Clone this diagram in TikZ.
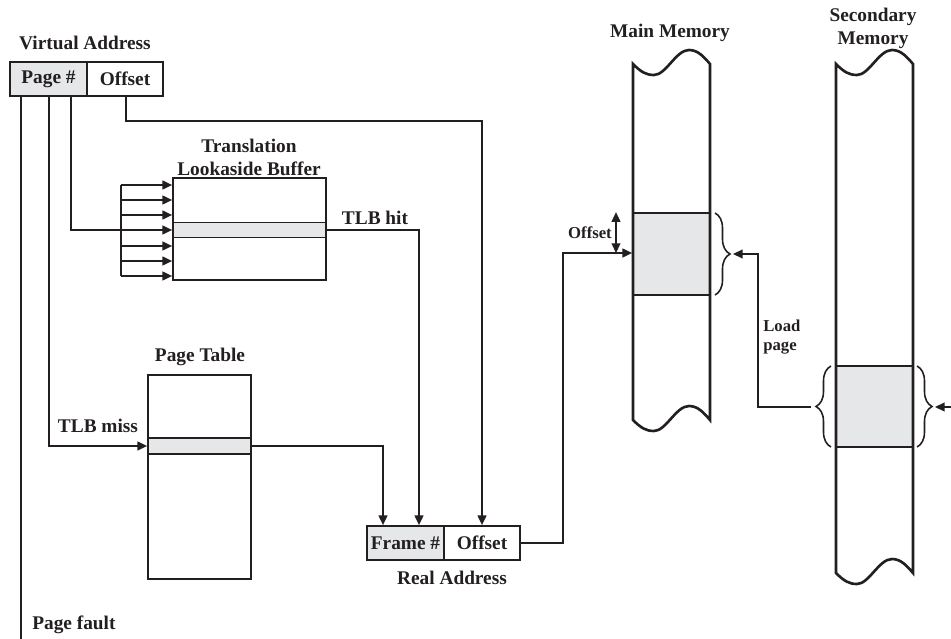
\documentclass[tikz,border=0pt]{standalone}
\usepackage{fontspec}
\setmainfont{Liberation Serif}
\usetikzlibrary{arrows.meta,decorations.pathreplacing}
\definecolor{ink}{HTML}{231F20}
\definecolor{shade}{HTML}{E6E7E8}
\begin{document}
\begin{tikzpicture}[x=0.02cm,y=-0.02cm,
  lbl/.style={font=\fontsize{11}{13}\selectfont\bfseries, text=ink, inner sep=0pt, align=center},
  slbl/.style={font=\fontsize{9.5}{11.3}\selectfont\bfseries, text=ink, inner sep=0pt},
  box/.style={draw=ink, line width=1pt, inner sep=0pt, font=\fontsize{11}{13}\selectfont\bfseries, text=ink},
  conn/.style={draw=ink, line width=0.9pt},
  arr/.style={conn, -{Triangle[length=5.5pt,width=5pt]}},
  darr/.style={conn, {Triangle[length=5.5pt,width=5pt]}-{Triangle[length=5.5pt,width=5pt]}},
  col/.style={draw=ink, line width=1.5pt},
  brc/.style={draw=ink, line width=0.9pt, decorate, decoration={brace, amplitude=0.3cm}},
]
\useasboundingbox (0,0) rectangle (951,639);

% Virtual address
\node[lbl] (valbl) at (85,43) {Virtual Address};
\node[box, fill=shade, minimum width=1.54cm, minimum height=0.68cm] (pg) at (48.5,79) {Page \#};
\node[box, minimum width=1.52cm, minimum height=0.68cm] (voff) at (125,79) {Offset};

% TLB
\node[lbl] (tlblbl) at (249,157) {Translation\\Lookaside Buffer};
\node[box, minimum width=3.06cm, minimum height=2.04cm] (tlb) at (249.5,229) {};
\node[box, fill=shade, minimum width=3.06cm, minimum height=0.3cm] (tlbrow) at (249.5,230) {};

% Page table
\node[lbl] (ptlbl) at (200,357) {Page Table};
\node[box, minimum width=2.06cm, minimum height=4.08cm] (pt) at (199.5,477) {};
\node[box, fill=shade, minimum width=2.06cm, minimum height=0.32cm] (ptrow) at (199.5,446) {};

% Real address
\node[box, fill=shade, minimum width=1.54cm, minimum height=0.68cm] (frame) at (405.5,543) {Frame \#};
\node[box, minimum width=1.52cm, minimum height=0.68cm] (roff) at (482,543) {Offset};
\node[lbl] (ralbl) at (452,578) {Real Address};

% Main memory
\node[lbl] (mmlbl) at (670,33) {Main Memory};
\node[box, fill=shade, minimum width=1.54cm, minimum height=1.64cm] (mmblk) at (671.5,254) {};
\draw[col] (633,64) .. controls (641,72) and (646,75) .. (654,75)
  .. controls (666,75) and (676,50) .. (689,50)
  .. controls (698,50) and (704,57) .. (710,64) -- (710,420)
  .. controls (704,413) and (698,406) .. (689,406)
  .. controls (676,406) and (666,431) .. (654,431)
  .. controls (646,431) and (641,428) .. (633,420) -- cycle;

% Secondary memory
\node[lbl] (smlbl) at (873,28) {Secondary\\Memory};
\node[box, fill=shade, minimum width=1.54cm, minimum height=1.62cm] (smblk) at (874.5,406.5) {};
\draw[col] (836,64) .. controls (844,72) and (849,75) .. (857,75)
  .. controls (869,75) and (879,50) .. (892,50)
  .. controls (901,50) and (907,57) .. (913,64) -- (913,573)
  .. controls (907,566) and (901,559) .. (892,559)
  .. controls (879,559) and (869,584) .. (857,584)
  .. controls (849,584) and (844,581) .. (836,573) -- cycle;

% Braces
\draw[brc] (715,213) -- (715,295);
\draw[brc] (831,447) -- (831,366);
\draw[brc] (917,366) -- (917,447);
\coordinate (mmtip) at (733,254);
\coordinate (smltip) at (811,407);
\coordinate (smrtip) at (935,407);
\coordinate (redge) at (951,407);

% Page fault
\coordinate (pf) at (21,639);
\draw[conn] (pf |- pg.south) -- (pf);
\node[lbl, anchor=west] (pflbl) at (32,625) {Page fault};

% TLB miss
\coordinate (m1) at (49,446);
\draw[arr] (m1 |- pg.south) -- (m1) -- (m1 -| pt.west);
\node[lbl] (misslbl) at (98,426) {TLB miss};

% TLB lookup bus
\coordinate (b1) at (71,230);
\draw[conn] (b1 |- pg.south) -- (b1) -- (121,230);
\coordinate (bt) at (121,185);
\coordinate (bb) at (121,276);
\draw[conn] (bt) -- (bb);
\foreach \yy in {185,200,215,230,246,261,276} {
  \coordinate (bi) at (121,\yy);
  \draw[arr] (bi) -- (bi -| tlb.west);
}

% Offset to real address
\coordinate (o1) at (126,121);
\coordinate (o2) at (482,121);
\draw[arr] (o1 |- voff.south) -- (o1) -- (o2) -- (roff.north);

% TLB hit
\coordinate (h1) at (419,230);
\draw[arr] (tlbrow.east) -- (h1) -- (h1 |- frame.north);
\node[lbl] (hitlbl) at (375,218) {TLB hit};

% Page table to frame
\coordinate (p1) at (383,446);
\draw[arr] (ptrow.east) -- (p1) -- (p1 |- frame.north);

% Real address to main memory
\coordinate (r1) at (563,543);
\coordinate (r2) at (563,253);
\draw[arr] (roff.east) -- (r1) -- (r2) -- (r2 -| mmblk.west);

% Offset double arrow
\coordinate (oa) at (616,253);
\draw[darr] (oa |- mmblk.north) -- (oa);
\node[slbl] (offlbl) at (590,233) {Offset};

% Load page
\coordinate (l1) at (758,407);
\coordinate (l2) at (758,254);
\draw[arr] (smltip) -- (l1) -- (l2) -- (mmtip);
\node[slbl, anchor=west, align=left] (loadlbl) at (763,337) {Load\\page};

% Incoming from right
\draw[arr] (redge) -- (smrtip);
\end{tikzpicture}
\end{document}
